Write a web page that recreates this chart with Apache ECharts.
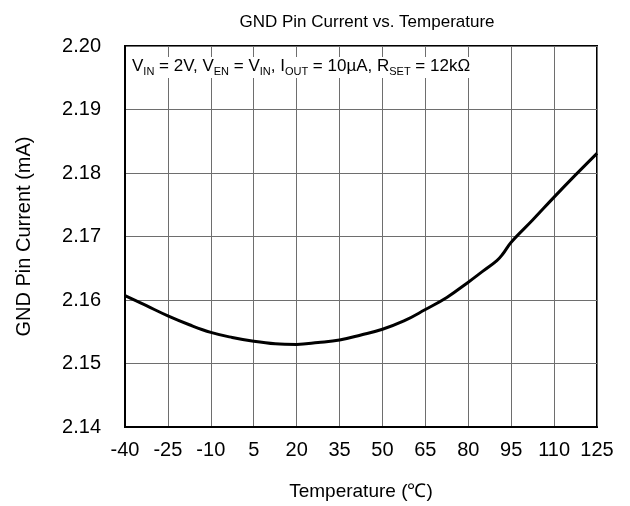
<!DOCTYPE html>
<html>
<head>
<meta charset="utf-8">
<script src="https://cdn.jsdelivr.net/npm/echarts@6/dist/echarts.min.js"></script>
<style>
html,body{margin:0;padding:0;background:#fff;}
#chart{width:630px;height:506px;}
</style>
</head>
<body>
<div id="chart"></div>
<script>
// Data
const temperatures = [-40, -32.5, -25, -17.5, -10, -2.5, 5, 12.5, 20, 27.5, 35, 42.5, 50, 57.5, 65, 72.5, 80, 85, 90, 92, 95, 102.5, 110, 117.5, 125];
const gndCurrent = [2.1607, 2.1591, 2.1575, 2.1561, 2.1549, 2.1541, 2.1535, 2.1531, 2.1530, 2.1533, 2.1537, 2.1545, 2.1554, 2.1567, 2.1585, 2.1604, 2.1628, 2.1645, 2.1662, 2.1672, 2.1691, 2.1726, 2.1762, 2.1797, 2.1831];
const xTicks = [-40, -25, -10, 5, 20, 35, 50, 65, 80, 95, 110, 125];
const yTicks = [2.14, 2.15, 2.16, 2.17, 2.18, 2.19, 2.20];
const titleText = 'GND Pin Current vs. Temperature';
const xName = 'Temperature (\u2103)';
const yName = 'GND Pin Current (mA)';

const FONT = 'Liberation Sans, Arial, sans-serif';
const chart = echarts.init(document.getElementById('chart'));
const seriesData = temperatures.map((t, i) => [t, gndCurrent[i]]);

chart.setOption({
  animation: false,
  backgroundColor: '#fff',
  title: [
    {
      text: titleText,
      left: 362, top: 9, textAlign: 'center',
      textStyle: {fontFamily: FONT, fontSize: 17, fontWeight: 'normal', color: '#000'}
    },
    {
      text: '{m|V}{s|IN}{m| = 2V, V}{s|EN}{m| = V}{s|IN}{m|, I}{s|OUT}{m| = 10\u00b5A, R}{s|SET}{m| = 12k\u03a9}',
      left: 130, top: 55,
      padding: [1, 2, 1, 2],
      backgroundColor: '#fff',
      textStyle: {
        fontFamily: FONT, fontSize: 17, fontWeight: 'normal', color: '#000',
        rich: {
          m: {fontFamily: FONT, fontSize: 17, fontWeight: 'normal', color: '#000', lineHeight: 19, verticalAlign: 'middle'},
          s: {fontFamily: FONT, fontSize: 11, fontWeight: 'normal', color: '#000', padding: [10, 0, 0, 0], verticalAlign: 'middle'}
        }
      }
    }
  ],
  grid: {left: 125, right: 33, top: 46, bottom: 79, containLabel: false,
    show: true, borderColor: '#000', borderWidth: 2, backgroundColor: 'transparent'},
  xAxis: {
    type: 'value',
    min: -40, max: 125, interval: 15,
    name: xName, nameLocation: 'middle', nameGap: 55,
    nameTextStyle: {fontFamily: FONT, fontSize: 19, color: '#000'},
    axisLine: {show: true, onZero: false, lineStyle: {color: '#000', width: 2}},
    axisTick: {show: false},
    axisLabel: {fontFamily: FONT, fontSize: 20, color: '#000', margin: 13,
      formatter: v => xTicks.includes(v) ? String(v) : ''},
    splitLine: {show: true, lineStyle: {color: '#6e6e6e', width: 1}}
  },
  yAxis: {
    type: 'value',
    min: 2.14, max: 2.20, interval: 0.01,
    name: yName, nameLocation: 'middle', nameGap: 91,
    nameTextStyle: {fontFamily: FONT, fontSize: 20, color: '#000'},
    axisLine: {show: true, onZero: false, lineStyle: {color: '#000', width: 2}},
    axisTick: {show: false},
    axisLabel: {fontFamily: FONT, fontSize: 20, color: '#000', margin: 24,
      formatter: v => {
        const m = yTicks.find(t => Math.abs(t - v) < 1e-6);
        return m !== undefined ? m.toFixed(2) : '';
      }},
    splitLine: {show: true, lineStyle: {color: '#6e6e6e', width: 1}}
  },
  series: [{
    type: 'line',
    data: seriesData,
    smooth: 0.4,
    showSymbol: false,
    lineStyle: {color: '#000', width: 3},
    z: 5
  }]
});
</script>
</body>
</html>
